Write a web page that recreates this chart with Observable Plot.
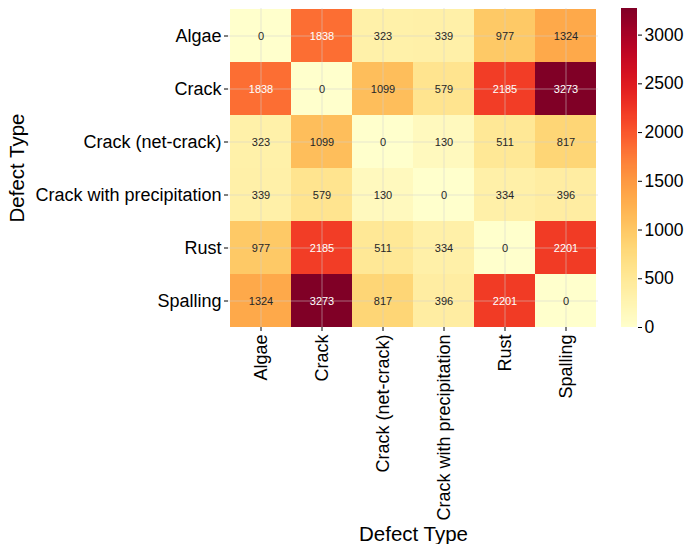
<!DOCTYPE html>
<html>
<head>
<meta charset="utf-8">
<script src="https://cdn.jsdelivr.net/npm/d3@7"></script>
<script src="https://cdn.jsdelivr.net/npm/@observablehq/plot@0.6"></script>
<style>
  html, body { margin: 0; padding: 0; background: white; }
  #wrap { position: relative; width: 686px; height: 544px; font-family: "Liberation Sans", Arial, Helvetica, sans-serif; }
  #wrap svg { position: absolute; top: 0; }
</style>
</head>
<body>
<div id="wrap"></div>
<script>
const categories = ["Algae", "Crack", "Crack (net-crack)", "Crack with precipitation", "Rust", "Spalling"];
const rowAlgae    = [0, 1838, 323, 339, 977, 1324];
const rowCrack    = [1838, 0, 1099, 579, 2185, 3273];
const rowNetCrack = [323, 1099, 0, 130, 511, 817];
const rowPrecip   = [339, 579, 130, 0, 334, 396];
const rowRust     = [977, 2185, 511, 334, 0, 2201];
const rowSpalling = [1324, 3273, 817, 396, 2201, 0];
const colorTicks  = [0, 500, 1000, 1500, 2000, 2500, 3000];
const axisTitle   = "Defect Type";

const rows = [rowAlgae, rowCrack, rowNetCrack, rowPrecip, rowRust, rowSpalling];
const table = [];
rows.forEach((r, i) => r.forEach((v, j) => table.push({row: categories[i], col: categories[j], v})));
const vmax = d3.max(table, d => d.v);
const colorOpts = {type: "linear", scheme: "YlOrRd", domain: [0, vmax]};
const font = "'Liberation Sans', Arial, Helvetica, sans-serif";

const main = Plot.plot({
  width: 686, height: 544,
  marginLeft: 228, marginRight: 88, marginTop: 8, marginBottom: 217,
  x: {domain: categories, padding: 0, label: null},
  y: {domain: categories, padding: 0, label: null},
  color: colorOpts,
  style: {fontFamily: font, color: "black", background: "transparent", overflow: "visible"},
  marks: [
    Plot.cell(table, {x: "col", y: "row", fill: "v", inset: 0, shapeRendering: "crispEdges"}),
    Plot.gridX(categories, {stroke: "#cfcfcf", strokeOpacity: 0.5, strokeWidth: 1}),
    Plot.gridY(categories, {stroke: "#cfcfcf", strokeOpacity: 0.5, strokeWidth: 1}),
    Plot.text(table.filter(d => d.v <= 1500), {x: "col", y: "row", text: d => String(d.v), fill: "#262626", fontSize: 11}),
    Plot.text(table.filter(d => d.v > 1500), {x: "col", y: "row", text: d => String(d.v), fill: "white", fontSize: 11}),
    Plot.axisX({anchor: "bottom", tickRotate: -90, tickSize: 4, tickPadding: 3, fontSize: 18, label: null, stroke: "black"}),
    Plot.axisY({anchor: "left", tickSize: 4, tickPadding: 3, fontSize: 18, label: null, stroke: "black"}),
    Plot.text([axisTitle], {text: d => d, frameAnchor: "bottom", textAnchor: "middle", lineAnchor: "bottom", dy: 213, fontSize: 20.5, fill: "black"}),
    Plot.text([axisTitle], {text: d => d, frameAnchor: "left", textAnchor: "middle", lineAnchor: "top", dx: -219, rotate: -90, fontSize: 20.5, fill: "black"})
  ]
});
main.style.left = "0px";

const nSteps = 300;
const stepSize = vmax / nSteps;
const steps = d3.range(nSteps).map(i => i * stepSize);

const bar = Plot.plot({
  width: 86, height: 544,
  marginLeft: 21, marginRight: 49, marginTop: 8, marginBottom: 217,
  x: {domain: [0, 1], axis: null},
  y: {domain: [0, vmax], axis: null},
  color: colorOpts,
  style: {fontFamily: font, color: "black", background: "transparent", overflow: "visible"},
  marks: [
    Plot.rect(steps, {x1: () => 0, x2: () => 1, y1: d => d, y2: d => Math.min(d + stepSize * 1.5, vmax), fill: d => d + stepSize / 2, shapeRendering: "crispEdges"}),
    Plot.axisY(colorTicks, {anchor: "right", tickSize: 4, tickPadding: 3, fontSize: 17.5, tickFormat: d => String(d), label: null, stroke: "black"})
  ]
});
bar.style.left = "600px";

const wrap = document.getElementById("wrap");
wrap.appendChild(main);
wrap.appendChild(bar);
</script>
</body>
</html>
